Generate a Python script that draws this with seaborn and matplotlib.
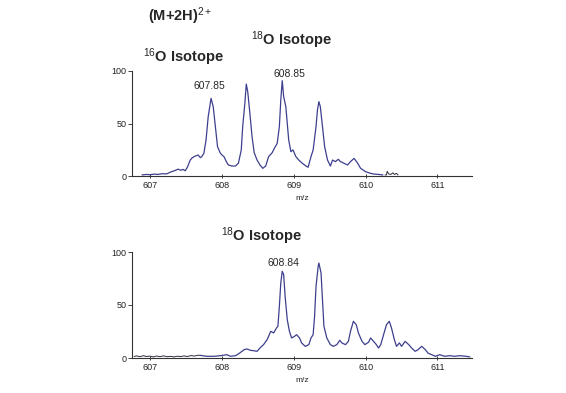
import matplotlib
matplotlib.use('Agg')
import matplotlib.pyplot as plt
import seaborn as sns

# top spectrum (M+2H)2+, 16O / 18O mixture
top_mz = [606.89, 606.95, 607.00, 607.06, 607.11, 607.17, 607.23, 607.30, 607.34, 607.39,
          607.43, 607.46, 607.49, 607.52, 607.56, 607.59, 607.63, 607.67, 607.70, 607.72,
          607.75, 607.78, 607.81, 607.85, 607.88, 607.91, 607.94, 607.98, 608.01, 608.03,
          608.06, 608.09, 608.14, 608.19, 608.23, 608.27, 608.29, 608.32, 608.34, 608.36,
          608.39, 608.42, 608.45, 608.49, 608.53, 608.57, 608.61, 608.65, 608.70, 608.73,
          608.77, 608.80, 608.82, 608.84, 608.86, 608.89, 608.91, 608.93, 608.96, 608.99,
          609.03, 609.07, 609.12, 609.17, 609.20, 609.24, 609.27, 609.31, 609.33, 609.35,
          609.37, 609.40, 609.43, 609.47, 609.51, 609.54, 609.58, 609.62, 609.65, 609.70,
          609.75, 609.79, 609.84, 609.89, 609.93, 610.00, 610.07, 610.12, 610.17, 610.24]
top_int = [1.0, 1.5, 1.2, 1.8, 1.5, 2.2, 2.0, 4.1, 5.0, 6.5,
           5.5, 6.3, 5.0, 8.3, 15.2, 17.5, 19.0, 20.0, 17.5, 18.4,
           21.6, 34.3, 56.5, 74.0, 66.0, 47.0, 27.9, 21.6, 19.5, 18.4,
           14.0, 10.5, 9.5, 9.5, 12.1, 24.8, 47.0, 69.2, 87.6, 80.3,
           59.7, 37.5, 22.2, 15.2, 10.5, 7.3, 9.5, 18.4, 22.2, 26.3,
           31.1, 47.0, 72.4, 90.8, 75.6, 66.0, 50.2, 34.3, 23.2, 24.8,
           18.4, 15.2, 12.1, 9.5, 8.3, 18.4, 24.8, 47.0, 62.9, 70.8,
           66.0, 47.0, 27.9, 15.2, 9.5, 15.2, 13.7, 15.9, 13.7, 12.1,
           10.5, 13.7, 16.8, 12.1, 7.3, 4.1, 2.5, 1.8, 1.6, 1.0]
# small dark baseline bits after the envelope
top_noise_mz = [610.27, 610.29, 610.30, 610.32, 610.35, 610.38, 610.40, 610.43, 610.45]
top_noise_int = [1.0, 1.0, 4.5, 2.0, 1.5, 3.0, 1.5, 2.5, 1.0]

# bottom spectrum, 18O labelled
bot_mz = [607.70, 607.79, 607.89, 607.98, 608.07, 608.12, 608.19, 608.23, 608.28, 608.31,
          608.35, 608.40, 608.44, 608.49, 608.53, 608.58, 608.63, 608.66, 608.68, 608.72,
          608.76, 608.78, 608.80, 608.82, 608.84, 608.86, 608.88, 608.91, 608.94, 608.97,
          609.01, 609.04, 609.08, 609.11, 609.16, 609.21, 609.24, 609.27, 609.29, 609.31,
          609.34, 609.35, 609.38, 609.40, 609.42, 609.46, 609.51, 609.55, 609.60, 609.64,
          609.67, 609.72, 609.76, 609.79, 609.83, 609.87, 609.90, 609.95, 609.99, 610.04,
          610.07, 610.11, 610.15, 610.18, 610.21, 610.25, 610.29, 610.33, 610.36, 610.40,
          610.43, 610.47, 610.50, 610.55, 610.60, 610.64, 610.69, 610.73, 610.78, 610.83,
          610.87, 610.92, 610.97, 611.03, 611.10, 611.17, 611.24, 611.31, 611.40, 611.45]
bot_int = [2.5, 1.6, 1.6, 2.2, 3.1, 1.6, 2.2, 3.8, 6.3, 7.9,
           8.5, 7.2, 6.9, 6.3, 9.4, 12.6, 17.3, 22.0, 25.2, 23.6,
           28.3, 29.9, 48.7, 70.8, 81.8, 78.6, 58.2, 36.2, 25.2, 18.9,
           20.4, 22.0, 18.9, 14.2, 11.0, 12.6, 18.9, 22.0, 39.3, 67.6,
           86.5, 89.6, 80.2, 55.0, 30.0, 18.9, 12.6, 11.0, 12.6, 16.7,
           14.2, 12.6, 15.7, 25.2, 34.6, 31.4, 23.6, 15.7, 12.6, 14.8,
           18.9, 15.7, 12.6, 9.4, 12.6, 22.0, 31.4, 34.6, 28.3, 17.3,
           11.0, 14.2, 11.0, 15.7, 12.6, 9.4, 6.3, 7.9, 11.0, 7.9,
           4.5, 3.1, 1.6, 3.1, 1.6, 2.2, 1.6, 2.2, 1.6, 1.0]
bot_noise_mz = [606.78, 606.82, 606.86, 606.91, 606.95, 607.00, 607.05, 607.09, 607.14, 607.19,
                607.24, 607.29, 607.33, 607.38, 607.43, 607.47, 607.52, 607.57, 607.62, 607.66, 607.70]
bot_noise_int = [1.5, 2.0, 1.2, 2.2, 1.4, 1.8, 1.0, 1.9, 1.3, 2.0,
                 1.2, 1.6, 1.0, 1.7, 1.3, 2.0, 1.4, 2.3, 1.8, 2.6, 2.5]

xticks = [607, 608, 609, 610, 611]
yticks = [0, 50, 100]

sns.set_style('ticks')
plt.rcParams['font.family'] = ['Liberation Sans', 'DejaVu Sans']
plt.rcParams['mathtext.fontset'] = 'custom'
plt.rcParams['mathtext.rm'] = 'Liberation Sans'
plt.rcParams['mathtext.default'] = 'rm'

LINE = '#3d3f8e'
DARK = '#2e2e3a'
W, H = 566, 393

fig = plt.figure(figsize=(W / 100, H / 100), dpi=100)
ax_top = fig.add_axes([132 / W, 1 - 176 / H, 340 / W, 105 / H])
ax_bot = fig.add_axes([132 / W, 1 - 358 / H, 340 / W, 106 / H])

sns.lineplot(x=top_mz, y=top_int, ax=ax_top, color=LINE, lw=0.9, sort=False, estimator=None)
sns.lineplot(x=top_noise_mz, y=top_noise_int, ax=ax_top, color=DARK, lw=0.7, sort=False, estimator=None)
sns.lineplot(x=bot_noise_mz, y=bot_noise_int, ax=ax_bot, color=DARK, lw=0.7, sort=False, estimator=None)
sns.lineplot(x=bot_mz, y=bot_int, ax=ax_bot, color=LINE, lw=0.9, sort=False, estimator=None)

for ax in (ax_top, ax_bot):
    ax.set_xlim(606.75, 611.48)
    ax.set_ylim(0, 100)
    ax.set_xticks(xticks)
    ax.set_yticks(yticks)
    sns.despine(ax=ax)
    for s in ('left', 'bottom'):
        ax.spines[s].set_linewidth(0.8)
        ax.spines[s].set_color('#333333')
    ax.tick_params(axis='x', direction='inout', length=3, width=0.6, pad=2, labelsize=6.5, colors='#222222')
    ax.tick_params(axis='y', direction='out', length=3, width=0.6, pad=1, labelsize=6.5, colors='#222222')
    ax.set_xlabel('m/z', fontsize=6, labelpad=4, color='#222222')
    ax.set_ylabel('')

ax_top.text(607.83, 85.5, '607.85', ha='center', va='center', fontsize=7.5)
ax_top.text(608.94, 97, '608.85', ha='center', va='center', fontsize=7.5)
ax_bot.text(608.85, 89.5, '608.84', ha='center', va='center', fontsize=7.5)

fig.text(148 / W, 1 - 16 / H, '(M+2H)$^{2+}$', fontsize=10.5, fontweight='bold', va='center')
fig.text(251 / W, 1 - 40 / H, '$^{18}$O Isotope', fontsize=10.5, fontweight='bold', va='center')
fig.text(143 / W, 1 - 57.5 / H, '$^{16}$O Isotope', fontsize=10.5, fontweight='bold', va='center')
fig.text(221 / W, 1 - 236 / H, '$^{18}$O Isotope', fontsize=10.5, fontweight='bold', va='center')

fig.savefig('out.png', dpi=100)
